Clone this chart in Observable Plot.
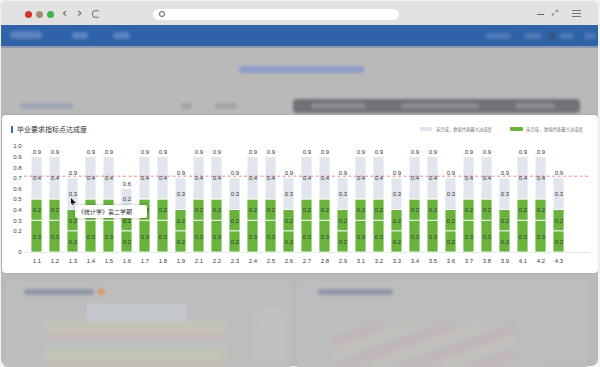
<!DOCTYPE html>
<html><head><meta charset="utf-8">
<script src="https://cdn.jsdelivr.net/npm/d3@7"></script>
<script src="https://cdn.jsdelivr.net/npm/@observablehq/plot@0.6"></script>
<style>
html,body{margin:0;padding:0;}
body{width:600px;height:367px;overflow:hidden;background:#f2f2f2;position:relative;font-family:"Noto Sans CJK SC","Noto Sans",sans-serif;}
.a{position:absolute;}
.blur{filter:blur(1.6px);}
.blur2{filter:blur(3px);}
</style></head>
<body>
<!-- browser window chrome -->
<div class="a" style="left:1px;top:1px;width:597px;height:365px;border-radius:7px;overflow:hidden;background:#b9b9b9;">
  <div class="a" style="left:0;top:0;width:597px;height:24px;background:#e2e2e2;"></div>
</div>
<div class="a" style="left:25px;top:11px;width:7px;height:7px;border-radius:50%;background:#d2352b;"></div>
<div class="a" style="left:36px;top:11px;width:7px;height:7px;border-radius:50%;background:#a98a76;"></div>
<div class="a" style="left:47px;top:11px;width:7px;height:7px;border-radius:50%;background:#3cb549;"></div>
<div class="a" style="left:62px;top:5px;font-size:13px;line-height:16px;color:#555;font-family:'DejaVu Sans';">&#x2039;</div>
<div class="a" style="left:77px;top:5px;font-size:13px;line-height:16px;color:#555;font-family:'DejaVu Sans';">&#x203A;</div>
<div class="a" style="left:92px;top:10px;width:6px;height:6px;border:1.2px solid #777;border-radius:50%;border-right-color:transparent;"></div>
<div class="a" style="left:153px;top:9px;width:246px;height:11px;border-radius:6px;background:#fff;"></div>
<div class="a" style="left:159px;top:11px;width:4px;height:4px;border:1.2px solid #555;border-radius:50%;"></div>
<div class="a" style="left:537px;top:13.5px;width:7px;height:1.3px;background:#666;"></div>
<div class="a" style="left:552px;top:8px;font-size:8px;color:#777;font-family:'DejaVu Sans';">&#x2922;</div>
<div class="a" style="left:572px;top:10px;width:9px;height:1.2px;background:#777;box-shadow:0 3px 0 #777,0 6px 0 #777;"></div>

<!-- blurred page behind -->
<div class="a" style="left:1px;top:25px;width:597px;height:22px;background:#2f62a8;"></div>
<div class="a" style="left:1px;top:46px;width:597px;height:2px;background:#8d9bb2;"></div>
<div class="a blur" style="left:10px;top:31px;width:32px;height:8px;border-radius:4px;background:#5b83bf;"></div>
<div class="a blur" style="left:72px;top:32px;width:16px;height:7px;border-radius:4px;background:#5b83bf;"></div>
<div class="a blur" style="left:113px;top:32px;width:17px;height:7px;border-radius:4px;background:#5b83bf;"></div>
<div class="a blur" style="left:485px;top:33px;width:26px;height:6px;border-radius:3px;background:#4f79b8;"></div>
<div class="a blur" style="left:524px;top:33px;width:18px;height:6px;border-radius:3px;background:#4f79b8;"></div>
<div class="a blur" style="left:549px;top:33px;width:6px;height:7px;border-radius:3px;background:#3a4f72;"></div>
<div class="a blur" style="left:560px;top:33px;width:14px;height:6px;border-radius:3px;background:#4f79b8;"></div>
<div class="a blur" style="left:584px;top:33px;width:12px;height:6px;border-radius:3px;background:#4f79b8;"></div>
<div class="a blur" style="left:239px;top:66px;width:125px;height:7px;border-radius:4px;background:#8e9cc6;"></div>
<div class="a blur" style="left:20px;top:103px;width:53px;height:6px;border-radius:3px;background:#9ba3b4;"></div>
<div class="a blur" style="left:181px;top:103px;width:11px;height:6px;border-radius:3px;background:#a3a3a3;"></div>
<div class="a blur" style="left:215px;top:103px;width:22px;height:6px;border-radius:3px;background:#a3a3a3;"></div>
<div class="a blur" style="left:293px;top:99px;width:287px;height:14px;border-radius:4px;background:#6f7177;"></div>
<div class="a blur" style="left:311px;top:103px;width:55px;height:6px;border-radius:3px;background:#8a8c92;"></div>
<div class="a blur" style="left:401px;top:103px;width:78px;height:6px;border-radius:3px;background:#8a8c92;"></div>
<div class="a blur" style="left:515px;top:103px;width:40px;height:6px;border-radius:3px;background:#8a8c92;"></div>

<!-- blurred panels below -->
<div class="a blur" style="left:5px;top:280px;width:286px;height:90px;background:#bdbdbd;border-radius:3px;"></div>
<div class="a blur" style="left:296px;top:280px;width:291px;height:90px;background:#bdbdbd;border-radius:3px;"></div>
<div class="a blur" style="left:24px;top:289px;width:70px;height:6px;border-radius:3px;background:#8f97a8;"></div>
<div class="a blur" style="left:98px;top:288px;width:7px;height:7px;border-radius:50%;background:#d89a6a;"></div>
<div class="a blur" style="left:318px;top:289px;width:75px;height:6px;border-radius:3px;background:#8f97a8;"></div>
<div class="a blur" style="left:87px;top:304px;width:100px;height:18px;border-radius:3px;background:#c5c8cf;"></div>
<div class="a blur2" style="left:45px;top:322px;width:180px;height:45px;opacity:.3;background:repeating-linear-gradient(180deg,#d7d9a5 0 6px,#d5c8a2 6px 12px,#d6a8a0 12px 18px,#b5c7d4 18px 24px,#bfd0b0 24px 30px);"></div>
<div class="a blur2" style="left:255px;top:310px;width:32px;height:55px;opacity:.5;background:repeating-linear-gradient(180deg,#c9c9c9 0 6px,#b9b9b9 6px 11px);"></div>
<div class="a blur2" style="left:335px;top:325px;width:180px;height:42px;opacity:.28;background:repeating-linear-gradient(160deg,#d8cf9e 0 6px,#b9c6d6 6px 12px,#d59b8e 12px 18px,#c8b6d0 18px 24px);"></div>
<div class="a blur2" style="left:545px;top:310px;width:36px;height:55px;opacity:.5;background:repeating-linear-gradient(180deg,#c4c4c4 0 6px,#b6b6b6 6px 11px);"></div>

<!-- chart card -->
<div class="a" style="left:2px;top:115px;width:596px;height:158px;background:#fff;border-radius:4px;box-shadow:0 0 2px rgba(0,0,0,.15);"></div>
<div class="a" style="left:11px;top:126px;width:1.6px;height:7px;background:#2f6bd0;"></div>
<div class="a" style="left:17px;top:124px;font-size:7px;line-height:11px;color:#333;white-space:nowrap;">毕业要求指标点达成度</div>
<div class="a" style="left:420px;top:127px;width:12px;height:3.5px;border-radius:1px;background:#dfe5ee;"></div>
<div class="a" id="lg1" style="left:436px;top:125.5px;font-size:4.3px;line-height:6px;color:#777;white-space:nowrap;"></div>
<div class="a" style="left:510px;top:127px;width:13px;height:3.5px;border-radius:1px;background:#6ab43e;"></div>
<div class="a" id="lg2" style="left:526px;top:125.5px;font-size:4.3px;line-height:6px;color:#777;white-space:nowrap;"></div>
<div class="a" id="chart" style="left:0;top:115px;width:600px;height:158px;"></div>
<!-- tooltip -->
<div class="a" id="tip" style="left:75px;top:205px;width:72px;height:13px;background:#fff;border-radius:2px;box-shadow:0 0 3px rgba(0,0,0,.3);font-size:6px;line-height:13px;color:#333;white-space:nowrap;padding-left:3px;box-sizing:border-box;"></div>
<div class="a" style="left:71px;top:198px;width:5px;height:7px;background:#111;clip-path:polygon(0 0,100% 70%,55% 70%,45% 100%,25% 100%,30% 72%,0 85%);"></div>

<script>
// ---- data ----
const categories = ["1.1","1.2","1.3","1.4","1.5","1.6","1.7","1.8","1.9","2.1","2.2","2.3","2.4","2.5","2.6","2.7","2.8","2.9","3.1","3.2","3.3","3.4","3.5","3.6","3.7","3.8","3.9","4.1","4.2","4.3"];
const doneLower = [0.3,0.3,0.2,0.3,0.3,0.2,0.3,0.3,0.2,0.3,0.3,0.2,0.3,0.3,0.2,0.3,0.3,0.2,0.3,0.3,0.2,0.3,0.3,0.2,0.3,0.3,0.2,0.3,0.3,0.2];
const doneUpper = [0.2,0.2,0.2,0.2,0.2,0.2,0.2,0.2,0.2,0.2,0.2,0.2,0.2,0.2,0.2,0.2,0.2,0.2,0.2,0.2,0.2,0.2,0.2,0.2,0.2,0.2,0.2,0.2,0.2,0.2];
const remaining = [0.4,0.4,0.3,0.4,0.4,0.2,0.4,0.4,0.3,0.4,0.4,0.3,0.4,0.4,0.3,0.4,0.4,0.3,0.4,0.4,0.3,0.4,0.4,0.3,0.4,0.4,0.3,0.4,0.4,0.3];
const maxLabels = ["0.9","0.9","0.9","0.9","0.9","0.6","0.9","0.9","0.9","0.9","0.9","0.9","0.9","0.9","0.9","0.9","0.9","0.9","0.9","0.9","0.9","0.9","0.9","0.9","0.9","0.9","0.9","0.9","0.9","0.9"];
const yTicks = [0,0.2,0.3,0.4,0.5,0.6,0.7,0.8,0.9,1.0];
const threshold = 0.72;
const legendLabels = ["未完成，数值代表最大达成度","未完成 ，数值代表最大达成度"];
const tooltipText = "《统计学》第二学期";

document.getElementById("lg1").textContent = legendLabels[0];
document.getElementById("lg2").textContent = legendLabels[1];
document.getElementById("tip").textContent = tooltipText;

const segments = [];
categories.forEach((c,i)=>{
  segments.push({cat:c, value:doneLower[i], kind:"done"});
  segments.push({cat:c, value:doneUpper[i], kind:"done"});
  segments.push({cat:c, value:remaining[i], kind:"todo"});
});
const totals = categories.map((c,i)=>doneLower[i]+doneUpper[i]+remaining[i]);

const chart = Plot.plot({
  width: 600, height: 158,
  marginTop: 31, marginBottom: 21, marginLeft: 24, marginRight: 10,
  style: {fontSize: "6px", fontFamily: "'Liberation Sans', Arial, sans-serif", color: "#3a3a3a", background: "transparent"},
  x: {domain: categories, range: [22, 573], padding: 0.41, label: null, tickSize: 0, tickPadding: 6},
  y: {domain: [0, 1], ticks: yTicks, tickFormat: d => d === 0 ? "0" : d.toFixed(1), label: null, tickSize: 0, tickPadding: 3},
  color: {domain: ["done","todo"], range: ["#6ab43e","#e1e6ee"]},
  marks: [
    Plot.ruleY([0], {stroke: "#e3e6ea", strokeWidth: 1}),
    Plot.barY(segments, Plot.stackY({x: "cat", y: "value", fill: "kind", stroke: "#fff", strokeWidth: 0.8})),
    Plot.ruleY([threshold], {stroke: "#ec6b6b", strokeWidth: 0.8, strokeDasharray: "3,2.5"}),
    Plot.text(segments, Plot.stackY({x: "cat", y: "value", text: d => d.value.toFixed(1), fill: "#333", fontSize: 6})),
    Plot.text(categories, {x: d => d, y: (d,i) => totals[i], text: (d,i) => maxLabels[i], dy: -5, fill: "#333", fontSize: 6})
  ]
});
document.getElementById("chart").appendChild(chart);
</script>
</body></html>
